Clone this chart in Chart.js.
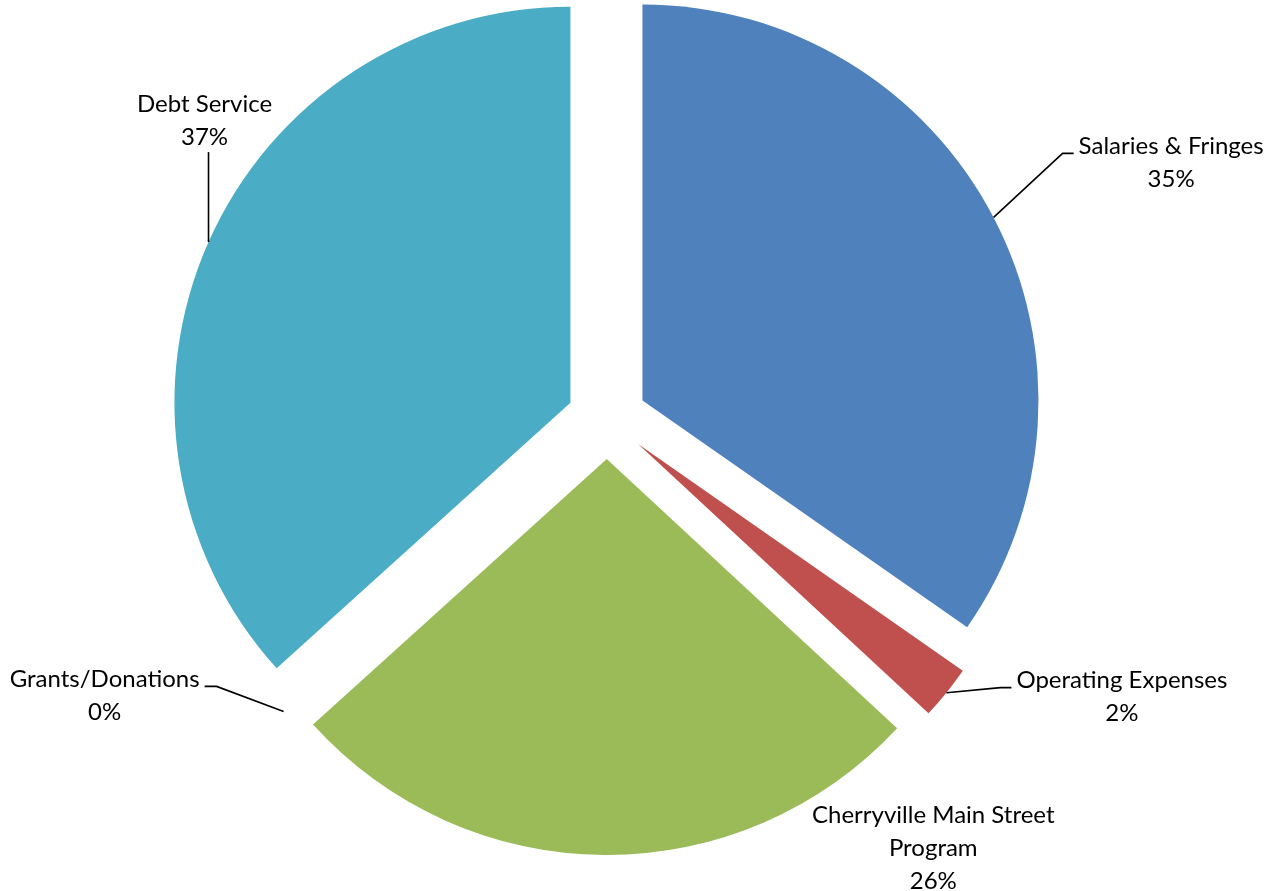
<!DOCTYPE html>
<html lang="en">
<head>
    <meta charset="UTF-8">
    <title>Expenditures</title>
    <script src="https://cdn.jsdelivr.net/npm/chart.js"></script>
    <style>
        html, body {
            margin: 0;
            padding: 0;
            background: #fff;
        }
        #wrap {
            width: 1269px;
            height: 891px;
            position: relative;
        }
    </style>
</head>
<body>
    <div id="wrap"><canvas id="pie"></canvas></div>
    <script>
        const categories = ['Salaries & Fringes', 'Operating Expenses', 'Cherryville Main Street Program', 'Grants/Donations', 'Debt Service'];
        const shares = [34.7, 2.2, 26.4, 0, 36.7];
        const sliceColors = ['#4F81BD', '#C0504D', '#9BBB59', '#8064A2', '#4BACC6'];

        // how far each slice is pulled out from the centre
        const EXPLODE = 40;
        const LABEL_FONT = '24px Lato';
        const LINE_H = 33;
        const WRAP_WIDTH = 270;

        // leader elbow measured from the outer middle of each slice
        const labelLayout = [
            { elbow: [69, -64], tail: 11, align: 'left' },
            { elbow: [54, -5], tail: 11, align: 'left' },
            { text: [329, -40], align: 'center' },
            { elbow: [-67, -25], tail: -12, align: 'right' },
            { elbow: [0, -90], tail: 0, align: 'above' }
        ];

        function wrapText(ctx, text, maxWidth) {
            const words = text.split(' ');
            const lines = [];
            let line = '';
            words.forEach(w => {
                const test = line ? line + ' ' + w : w;
                if (line && ctx.measureText(test).width > maxWidth) {
                    lines.push(line);
                    line = w;
                } else {
                    line = test;
                }
            });
            if (line) lines.push(line);
            return lines;
        }

        // draw every arc shifted outward along its own middle angle
        const explodePlugin = {
            id: 'explode',
            beforeDatasetDraw(chart, args) {
                const ctx = chart.ctx;
                args.meta.data.forEach(arc => {
                    if (arc.circumference === 0) return;
                    const mid = (arc.startAngle + arc.endAngle) / 2;
                    ctx.save();
                    ctx.translate(Math.cos(mid) * EXPLODE, Math.sin(mid) * EXPLODE);
                    arc.draw(ctx);
                    ctx.restore();
                });
                return false;
            }
        };

        const labelPlugin = {
            id: 'sliceLabels',
            afterDatasetsDraw(chart) {
                const ctx = chart.ctx;
                const meta = chart.getDatasetMeta(0);
                const total = shares.reduce((a, b) => a + b, 0);
                ctx.save();
                ctx.font = LABEL_FONT;
                ctx.fillStyle = '#000';
                ctx.strokeStyle = '#000';
                ctx.lineWidth = 1.6;
                ctx.textBaseline = 'middle';
                ctx.textAlign = 'center';

                meta.data.forEach((arc, i) => {
                    const mid = (arc.startAngle + arc.endAngle) / 2;
                    const r = arc.outerRadius + EXPLODE;
                    const px = arc.x + Math.cos(mid) * r;
                    const py = arc.y + Math.sin(mid) * r;
                    const lay = labelLayout[i];
                    const lines = wrapText(ctx, categories[i], WRAP_WIDTH);
                    lines.push(Math.round(shares[i] / total * 100) + '%');
                    const blockW = Math.max(...lines.map(l => ctx.measureText(l).width));

                    let cx, firstY;
                    if (lay.elbow) {
                        const ex = px + lay.elbow[0];
                        const ey = py + lay.elbow[1];
                        const tx = ex + lay.tail;
                        ctx.beginPath();
                        ctx.moveTo(px, py);
                        ctx.lineTo(ex, ey);
                        ctx.lineTo(tx, ey);
                        ctx.stroke();
                        if (lay.align === 'left') {
                            cx = tx + 5 + blockW / 2;
                            firstY = ey - 7;
                        } else if (lay.align === 'right') {
                            cx = tx - 5 - blockW / 2;
                            firstY = ey - 7;
                        } else {
                            cx = ex - 4;
                            firstY = ey - 15 - (lines.length - 1) * LINE_H;
                        }
                    } else {
                        cx = px + lay.text[0];
                        firstY = py + lay.text[1];
                    }
                    lines.forEach((l, k) => ctx.fillText(l, cx, firstY + k * LINE_H));
                });
                ctx.restore();
            }
        };

        const ctx = document.getElementById('pie').getContext('2d');
        const chart = new Chart(ctx, {
            type: 'pie',
            data: {
                labels: categories,
                datasets: [{
                    data: shares,
                    backgroundColor: sliceColors,
                    borderWidth: 0,
                    clip: false
                }]
            },
            options: {
                responsive: true,
                maintainAspectRatio: false,
                animation: false,
                radius: 396,
                layout: {
                    padding: { left: 0, top: 0, right: 55, bottom: 53 }
                },
                plugins: {
                    legend: { display: false },
                    tooltip: { enabled: false }
                }
            },
            plugins: [explodePlugin, labelPlugin]
        });
    </script>
</body>
</html>
